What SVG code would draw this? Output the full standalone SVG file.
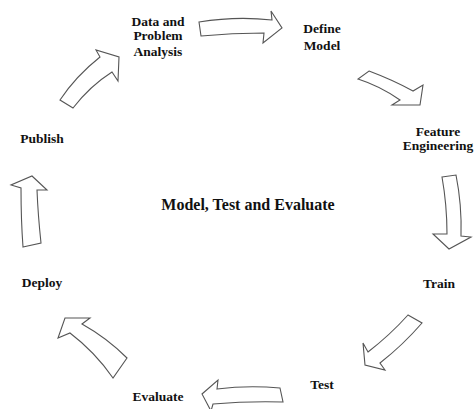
<svg xmlns="http://www.w3.org/2000/svg" width="475" height="409" viewBox="0 0 475 409">
<style>
.lbl{font-family:"Liberation Serif","Times New Roman",serif;font-weight:bold;font-size:13.5px;fill:#111;text-anchor:middle}
.title{font-family:"Liberation Serif","Times New Roman",serif;font-weight:bold;font-size:16px;fill:#111;text-anchor:middle}
.arr{fill:#fff;stroke:#555;stroke-width:1.1;stroke-linejoin:miter}
</style>
<rect width="475" height="409" fill="#fff"/>
<g id="connectors">
<path class="arr" d="M199,22 Q236,16 272,20 L271,11 L282,28 L263,43 L264,33 Q232,33 201,36 Z"/>
<path class="arr" d="M369,71 Q393,80 413,91 L423,85 L420,105 L392,105 L400,100 Q380,86 358,79 Z"/>
<path class="arr" d="M442,177 L456,175 Q462,205 461,236 L471,237 L449,249 L433,234 L447,234 Q447,205 442,177 Z"/>
<path class="arr" d="M408,315 L422,323 Q403,345 380,363 L385,370 L365,365 L363,343 L368,352 Q390,335 408,315 Z"/>
<path class="arr" d="M280,388 L283,402 Q248,401 213,404 L211,411 L202,394 L218,380 L217,389 Q248,385 280,388 Z"/>
<path class="arr" d="M127,358 L113,378 Q95,352 70,333 L58,338 L65,318 L90,318 L82,324 Q107,338 127,358 Z"/>
<path class="arr" d="M23,247 L41,243 Q38,215 37,190 L47,190 L32,176 L11,185 L21,188 Q21,220 23,247 Z"/>
<path class="arr" d="M60,100 Q76,76 100,57 L96,50 L119,57 L118,81 L112,72 Q90,86 73,108 Z"/>
</g>
<g id="data-problem-analysis">
<text class="lbl" x="158" y="26">Data and</text>
<text class="lbl" x="158" y="40">Problem</text>
<text class="lbl" x="158" y="56">Analysis</text>
</g>
<g id="define-model">
<text class="lbl" x="322" y="33">Define</text>
<text class="lbl" x="322" y="50">Model</text>
</g>
<g id="feature-engineering">
<text class="lbl" x="438" y="136">Feature</text>
<text class="lbl" x="438" y="150">Engineering</text>
</g>
<g id="train"><text class="lbl" x="439" y="288">Train</text></g>
<g id="test"><text class="lbl" x="322" y="389">Test</text></g>
<g id="evaluate"><text class="lbl" x="158" y="401">Evaluate</text></g>
<g id="deploy"><text class="lbl" x="42" y="287">Deploy</text></g>
<g id="publish"><text class="lbl" x="42" y="143">Publish</text></g>
<g id="center"><text class="title" x="248" y="210">Model, Test and Evaluate</text></g>
</svg>
